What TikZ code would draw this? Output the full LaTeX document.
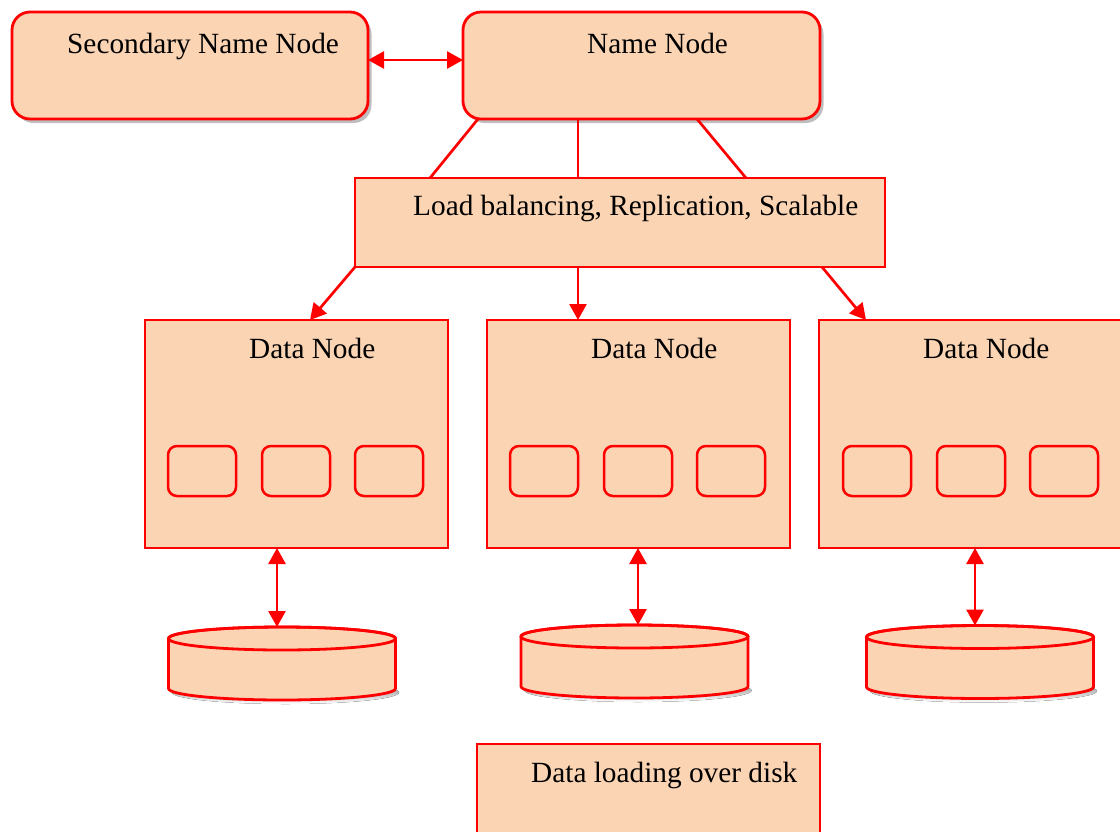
\documentclass[tikz,border=0pt]{standalone}
\usepackage{fontspec}
\setmainfont{Liberation Serif}
\usetikzlibrary{arrows.meta,shadows,calc}
\definecolor{peach}{RGB}{251,212,180}
\definecolor{edge}{RGB}{255,0,0}
\definecolor{shade}{RGB}{190,190,190}
\begin{document}
\begin{tikzpicture}[x=1pt,y=-1pt,
  sz/.style 2 args={minimum width=#1, minimum height=#2},
  base/.style={draw=edge, fill=peach, inner sep=0pt, outer sep=0pt, anchor=north west},
  topbox/.style={base, line width=2.8pt, rounded corners=18pt,
    drop shadow={shadow xshift=3.5pt, shadow yshift=-4pt, fill=shade, opacity=1}},
  plainbox/.style={base, line width=2.5pt},
  slot/.style={base, line width=2.5pt, rounded corners=9pt, sz={68pt}{50pt}},
  lbl/.style={anchor=base west, inner sep=0pt, font=\fontsize{29.3}{34}\selectfont},
  link/.style={draw=edge, line width=2.7pt},
  tip/.style={},
  arr/.style={link, -{Triangle[length=16pt,width=17pt]}},
  biarr/.style={link, {Triangle[length=16pt,width=17pt]}-{Triangle[length=16pt,width=17pt]}},
  diskline/.style={draw=edge, fill=peach, line width=2.8pt, line join=round}]
\useasboundingbox (0,0) rectangle (1120,831);

% management tier
\node[topbox, sz={356pt}{107pt}] (sec) at (12,12) {};
\node[topbox, sz={357pt}{107pt}] (nn) at (463,12) {};
\node[lbl] (sec-t) at (67,53) {Secondary Name Node};
\node[lbl] (nn-t) at (587,53) {Name Node};
\draw[biarr] ($(sec.east)+(0,-5.5)$) -- ($(nn.west)+(0,-5.5)$);

% services box
\node[plainbox, sz={530pt}{89pt}] (lb) at (355,178) {};
\node[lbl] (lb-t) at (413,215) {Load balancing, Replication, Scalable};
\draw[link] ($(nn.south west)+(15,0)$) -- ($(lb.north west)+(75,0)$);
\draw[link] ($(nn.south west)+(115,0)$) -- ($(lb.north west)+(223,0)$);
\draw[link] ($(nn.south west)+(234,0)$) -- ($(lb.north west)+(391,0)$);

% data nodes
\node[plainbox, sz={303pt}{228pt}] (dn1) at (145,320) {};
\node[plainbox, sz={303pt}{228pt}] (dn2) at (487,320) {};
\node[plainbox, sz={320pt}{228pt}] (dn3) at (819,320) {};
\node[lbl] (dn1-t) at (249,358) {Data Node};
\node[lbl] (dn2-t) at (591,358) {Data Node};
\node[lbl] (dn3-t) at (923,358) {Data Node};

\draw[arr] (lb.south west) -- ($(dn1.north west)+(165,0)$);
\draw[arr] ($(lb.south west)+(223,0)$) -- ($(dn2.north west)+(91,0)$);
\draw[arr] ($(lb.south west)+(467,0)$) -- ($(dn3.north west)+(47,0)$);

% blocks held by each data node
\foreach \n/\x in {1/168, 2/510, 3/843} {
  \node[slot] (b\n a) at (\x,446) {};
  \node[slot] (b\n b) at (\x+94,446) {};
  \node[slot] (b\n c) at (\x+187,446) {};
}

% disks
\foreach \cx/\cy in {282/638.5, 634.5/636.5, 980/637} {
  \fill[shade] (\cx+3.5,\cy+54) ellipse[x radius=113.5, y radius=11.5];
  \path[diskline] (\cx-113.5,\cy) -- (\cx-113.5,\cy+50)
    arc[start angle=180, end angle=0, x radius=113.5, y radius=11.5]
    -- (\cx+113.5,\cy)
    arc[start angle=0, end angle=-180, x radius=113.5, y radius=11.5] -- cycle;
  \draw[draw=edge, line width=2.8pt] (\cx,\cy) ellipse[x radius=113.5, y radius=11.5];
}
\coordinate (d1) at (277,627);
\coordinate (d2) at (638,625);
\coordinate (d3) at (975,625.5);
\draw[biarr] (dn1.south -| d1) -- (d1);
\draw[biarr] (dn2.south -| d2) -- (d2);
\draw[biarr] (dn3.south -| d3) -- (d3);

% legend
\node[plainbox, line width=2.8pt, sz={343pt}{120pt}] (dl) at (477,744) {};
\node[lbl] (dl-t) at (531,782) {Data loading over disk};
\end{tikzpicture}
\end{document}
